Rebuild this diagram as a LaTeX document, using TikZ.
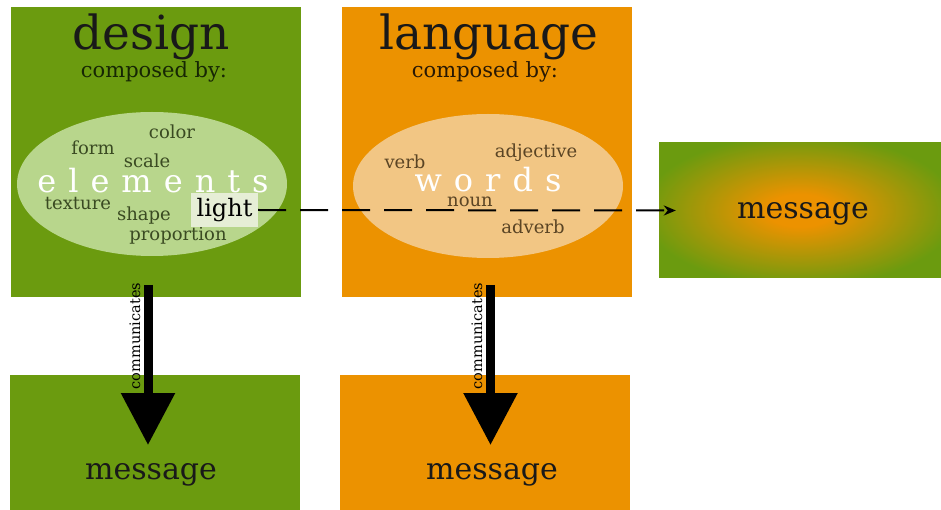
\documentclass[tikz,border=0pt]{standalone}
\usepackage{fontspec}
\setmainfont{DejaVu Serif}
\usetikzlibrary{arrows.meta,shapes.geometric}
\definecolor{dgreen}{RGB}{107,155,15}
\definecolor{dorange}{RGB}{236,146,0}
\definecolor{lgreen}{RGB}{184,214,140}
\definecolor{lorange}{RGB}{242,198,132}
\definecolor{lightbox}{RGB}{230,238,214}
\definecolor{gword}{RGB}{58,74,34}
\definecolor{oword}{RGB}{90,68,36}
\definecolor{compg}{RGB}{22,38,4}
\definecolor{compo}{RGB}{40,24,4}
\pgfdeclareradialshading{msgshade}{\pgfpoint{0bp}{0bp}}{color(0bp)=(dorange); color(6bp)=(dorange); color(28bp)=(dgreen); color(50bp)=(dgreen)}
\begin{document}
\begin{tikzpicture}[x=1pt,y=-1pt,
  box/.style={rectangle, inner sep=0pt, draw=none},
  ell/.style={ellipse, inner sep=0pt, draw=none, minimum width=270pt, minimum height=144pt},
  title/.style={font=\fontsize{47}{50}\selectfont, text=black!90, inner sep=0pt},
  comp/.style={font=\fontsize{21}{24}\selectfont, inner sep=0pt},
  word/.style={font=\fontsize{18}{20}\selectfont, inner sep=0pt},
  big/.style={font=\fontsize{32}{34}\selectfont, text=white, inner sep=0pt},
  msgtext/.style={font=\fontsize{30}{32}\selectfont, text=black!90, inner sep=0pt, anchor=base},
  comm/.style={font=\fontsize{14.5}{16}\selectfont, rotate=90, inner sep=0pt, text=black},
  thick arrow/.style={line width=9pt, -{Triangle[width=52pt,length=52pt]}}
]
\useasboundingbox (0,0) rectangle (941,510);
% main boxes
\node[box, fill=dgreen, minimum width=290pt, minimum height=289pt] (design) at (155.5,152) {};
\node[box, fill=dorange, minimum width=290pt, minimum height=289pt] (language) at (487,152) {};
\node[box, shading=msgshade, minimum width=282pt, minimum height=135pt] (msg) at (800,210.5) {};
\node[box, fill=dgreen, minimum width=290pt, minimum height=135pt] (dmsg) at (155,442.5) {};
\node[box, fill=dorange, minimum width=290pt, minimum height=135pt] (lmsg) at (485,442.5) {};
% titles
\node[title, anchor=base] (dtitle) at (151,50) {design};
\node[comp, anchor=base, text=compg] (dcomp) at (154,78) {composed by:};
\node[title, anchor=base] (ltitle) at (489,50) {language};
\node[comp, anchor=base, text=compo] (lcomp) at (485,78) {composed by:};
% ellipses
\node[ell, fill=lgreen] (ell1) at (152,184) {};
\node[ell, fill=lorange] (ell2) at (488,186) {};
% design words
\node[word, text=gword] (color) at (172,132) {color};
\node[word, text=gword] (form) at (93,148) {form};
\node[word, text=gword] (scale) at (147,161) {scale};
\node[big] (elements) at (153,181) {e\kern12pt l\kern12pt e\kern12pt m\kern12pt e\kern12pt n\kern12pt t\kern12pt s};
\node[word, text=gword] (texture) at (78,204) {texture};
\node[word, text=gword] (shape) at (144,216) {shape};
\node[word, text=gword] (proportion) at (178,236) {proportion};
\node[box, fill=lightbox, minimum width=67pt, minimum height=34pt, font=\fontsize{24}{26}\selectfont, text=black] (light) at (224.5,210) {light};
% language words
\node[word, text=oword] (verb) at (405,162) {verb};
\node[word, text=oword] (adjective) at (536,153) {adjective};
\node[big] (words) at (488,180) {w\kern12pt o\kern12pt r\kern12pt d\kern12pt s};
\node[word, text=oword] (noun) at (470,202) {noun};
\node[word, text=oword] (adverb) at (533,227) {adverb};
% message texts
\node[msgtext] (m1) at (151,479) {message};
\node[msgtext] (m2) at (492,479) {message};
\node[msgtext] (m3) at (803,219) {message};
% dashed connector
\draw[line width=2pt, dash pattern=on 28pt off 14pt, -{Stealth[length=12pt,width=10pt]}] (light.east) -- ([xshift=17pt]msg.west);
% communicates arrows
\coordinate (a1s) at (148,285);
\coordinate (a1e) at (148,445);
\coordinate (a2s) at (490.5,285);
\coordinate (a2e) at (490.5,445);
\draw[thick arrow] (a1s) -- (a1e);
\draw[thick arrow] (a2s) -- (a2e);
\node[comm] (c1) at (135,336) {communicates};
\node[comm] (c2) at (477,336) {communicates};
\end{tikzpicture}
\end{document}
